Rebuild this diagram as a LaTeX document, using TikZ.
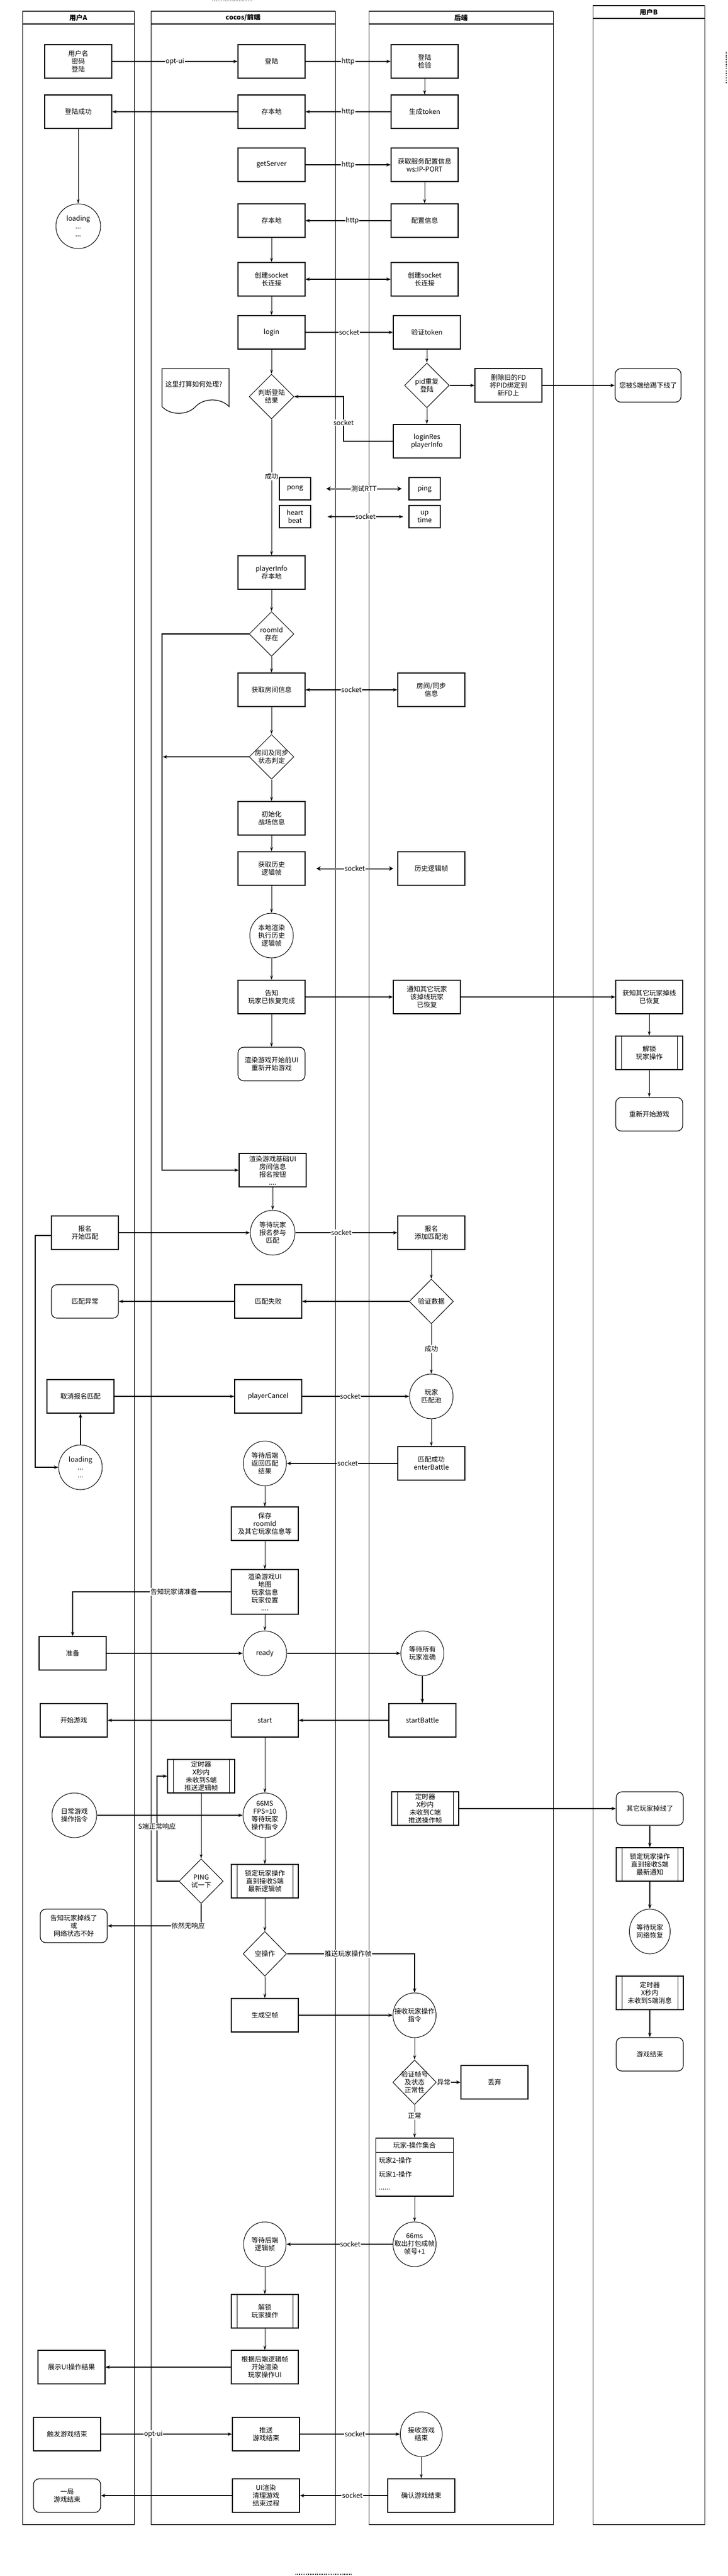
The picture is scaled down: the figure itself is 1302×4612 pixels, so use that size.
\documentclass[tikz,border=0pt]{standalone}
\usepackage{fontspec}
\setmainfont{Noto Sans CJK SC}
\usetikzlibrary{shapes.geometric,arrows.meta,calc}
\newcommand{\myfs}{\fontsize{12}{14}\selectfont}
\begin{document}
\begin{tikzpicture}[x=1pt,y=-1pt,
 nbase/.style={draw, line width=1.2pt, align=center, inner sep=1pt, font=\myfs},
 box/.style={nbase, rectangle, minimum width=120pt, minimum height=60pt},
 rbox/.style={box, rounded corners=10pt},
 proc/.style={box, path picture={\draw[line width=0.8pt] ([xshift=10pt]path picture bounding box.north west) -- ([xshift=10pt]path picture bounding box.south west) ([xshift=-10pt]path picture bounding box.north east) -- ([xshift=-10pt]path picture bounding box.south east);}},
 sbox/.style={nbase, rectangle, minimum width=56pt, minimum height=40pt},
 ell/.style={draw, line width=1pt, ellipse, minimum width=78pt, minimum height=80pt, inner sep=0pt},
 dia/.style={draw, line width=1pt, diamond, minimum width=80pt, minimum height=80pt, inner sep=0pt},
 ltxt/.style={align=center, font=\myfs, inner sep=0pt},
 lbl/.style={fill=white, inner sep=1pt, font=\myfs},
 thk/.style={line width=1.5pt, -{Stealth[length=8pt,width=6pt]}},
 thn/.style={line width=0.8pt, -{Stealth[length=8pt,width=5pt]}},
 dbl/.style={line width=1.5pt, {Stealth[length=8pt,width=6pt]}-{Stealth[length=8pt,width=6pt]}},
 gdbl/.style={line width=3pt, draw=gray, {Stealth[length=8pt,width=8pt,black]}-{Stealth[length=8pt,width=8pt,black]}},
 lane/.style={line width=0.8pt},
 laneh/.style={line width=1.4pt},
 hdr/.style={font=\myfs\bfseries}
]
\useasboundingbox (0,0) rectangle (1302,4612);
\fill[white] (0,0) rectangle (1302,4612);

% ---------- lanes ----------
\draw[lane] (40,20) rectangle (240,4520);
\draw[laneh] (40,20) -- (240,20) (40,43) -- (240,43) (40,4520) -- (240,4520);
\draw[lane] (270,20) rectangle (600,4520);
\draw[laneh] (270,20) -- (600,20) (270,43) -- (600,43) (270,4520) -- (600,4520);
\draw[lane] (660,20) rectangle (990,4520);
\draw[laneh] (660,20) -- (990,20) (660,43) -- (990,43) (660,4520) -- (990,4520);
\draw[lane] (1061,10) rectangle (1261,4520);
\draw[laneh] (1061,10) -- (1261,10) (1061,33) -- (1261,33) (1061,4520) -- (1261,4520);
\node[hdr] (hA) at (140,31.5) {用户A};
\node[hdr] (hC) at (435,31.5) {cocos/前端};
\node[hdr] (hS) at (825,31.5) {后端};
\node[hdr] (hB) at (1161,21.5) {用户B};

% small dotted marks
\draw[dotted, line width=1.2pt] (380,1.5) -- (451,1.5);
\draw[dotted, line width=1.2pt] (529,4609) -- (631,4609);
\draw[dotted, line width=1.2pt] (1300,93) -- (1300,150);

% ---------- user A ----------
\node[box] (a1) at (140,110) {用户名\\密码\\登陆};
\node[box] (a2) at (140,200) {登陆成功};
\node[ell, minimum width=80pt, label={[ltxt]center:{loading\\...\\...}}] (a3) at (140,405) {};
\node[box] (a4) at (152,2207) {报名\\开始匹配};
\node[rbox] (a5) at (152,2330) {匹配异常};
\node[box] (a6) at (144,2500) {取消报名匹配};
\node[ell, label={[ltxt]center:{loading\\...\\...}}] (a7) at (144,2627) {};
\node[box] (a8) at (130,2960) {准备};
\node[box] (a9) at (132,3080) {开始游戏};
\node[ell, minimum width=80pt, label={[ltxt]center:{日常游戏\\操作指令}}] (a10) at (133,3250) {};
\node[rbox] (a11) at (132,3448) {告知玩家掉线了\\或\\网络状态不好};
\node[box] (a12) at (128,4238) {展示UI操作结果};
\node[box] (a13) at (120,4358) {触发游戏结束};
\node[rbox] (a14) at (120,4468) {一局\\游戏结束};

% ---------- cocos ----------
\node[box] (c1) at (486,110) {登陆};
\node[box] (c2) at (486,200) {存本地};
\node[box] (c3) at (486,295) {getServer};
\node[box] (c4) at (486,395) {存本地};
\node[box] (c5) at (486,500) {创建socket\\长连接};
\node[box] (c6) at (486,595) {login};
\node[dia, label={[ltxt]center:{判断登陆\\结果}}] (c7) at (486,710) {};
\draw[line width=1.2pt] (290,728) -- (290,660) -- (410,660) -- (410,728)
  .. controls (395,712) and (365,712) .. (350,728)
  .. controls (335,744) and (305,744) .. (290,728);
\node[ltxt] (cnote) at (347,688) {这里打算如何处理?};
\node[sbox] (c8) at (528,875) {pong};
\node[sbox] (c9) at (528,925) {heart\\beat};
\node[box] (c10) at (486,1025) {playerInfo\\存本地};
\node[dia, label={[ltxt]center:{roomId\\存在}}] (c11) at (486,1135) {};
\node[box] (c12) at (486,1235) {获取房间信息};
\node[dia, label={[ltxt]center:{房间及同步\\状态判定}}] (c13) at (486,1355) {};
\node[box] (c14) at (486,1465) {初始化\\战场信息};
\node[box] (c15) at (486,1555) {获取历史\\逻辑帧};
\node[ell, label={[ltxt]center:{本地渲染\\执行历史\\逻辑帧}}] (c16) at (486,1675) {};
\node[box] (c17) at (486,1785) {告知\\玩家已恢复完成};
\node[rbox] (c18) at (486,1905) {渲染游戏开始前UI\\重新开始游戏};
\node[box] (c19) at (488,2095) {渲染游戏基础UI\\房间信息\\报名按钮\\....};
\node[ell, minimum width=80pt, label={[ltxt]center:{等待玩家\\报名参与\\匹配}}] (c20) at (488,2207) {};
\node[box] (c21) at (480,2330) {匹配失败};
\node[box] (c22) at (480,2500) {playerCancel};
\node[ell, minimum width=77pt, label={[ltxt]center:{等待后端\\返回匹配\\结果}}] (c23) at (474,2620) {};
\node[box] (c24) at (474,2728) {保存\\roomId\\及其它玩家信息等};
\node[box, minimum height=80pt] (c25) at (474,2850) {渲染游戏UI\\地图\\玩家信息\\玩家位置\\....};
\node[ell, label={[ltxt]center:{ready}}] (c26) at (474,2960) {};
\node[box] (c27) at (474,3080) {start};
\node[proc] (c28) at (360,3180) {定时器\\X秒内\\未收到S端\\推送逻辑帧};
\node[ell, label={[ltxt]center:{66MS\\FPS=10\\等待玩家\\操作指令}}] (c29) at (474,3250) {};
\node[dia, minimum width=79pt, label={[ltxt]center:{PING\\试一下}}] (c30) at (360,3368) {};
\node[proc] (c31) at (474,3368) {锁定玩家操作\\直到接收S端\\最新逻辑帧};
\node[dia, minimum width=78pt, label={[ltxt]center:{空操作}}] (c32) at (474,3498) {};
\node[box] (c33) at (474,3608) {生成空帧};
\node[ell, minimum width=76pt, label={[ltxt]center:{等待后端\\逻辑帧}}] (c34) at (474,4018) {};
\node[proc] (c35) at (474,4138) {解锁\\玩家操作};
\node[box] (c36) at (474,4238) {根据后端逻辑帧\\开始渲染\\玩家操作UI};
\node[box] (c37) at (476,4358) {推送\\游戏结束};
\node[box] (c38) at (476,4468) {UI渲染\\清理游戏\\结束过程};

% ---------- backend ----------
\node[box] (b1) at (760,110) {登陆\\检验};
\node[box] (b2) at (760,200) {生成token};
\node[box] (b3) at (760,295) {获取服务配置信息\\ws:IP-PORT};
\node[box] (b4) at (760,395) {配置信息};
\node[box] (b5) at (760,500) {创建socket\\长连接};
\node[box] (b6) at (764,595) {验证token};
\node[dia, label={[ltxt]center:{pid重复\\登陆}}] (b7) at (764,690) {};
\node[box] (b8) at (910,690) {删除旧的FD\\将PID绑定到\\新FD上};
\node[box] (b9) at (764,790) {loginRes\\playerInfo};
\node[sbox] (b10) at (760,875) {ping};
\node[sbox] (b11) at (760,925) {up\\time};
\node[box] (b12) at (772,1235) {房间/同步\\信息};
\node[box] (b13) at (772,1555) {历史逻辑帧};
\node[box] (b14) at (764,1785) {通知其它玩家\\该掉线玩家\\已恢复};
\node[box] (b15) at (772,2207) {报名\\添加匹配池};
\node[dia, minimum width=79pt, label={[ltxt]center:{验证数据}}] (b16) at (772,2330) {};
\node[ell, label={[ltxt]center:{玩家\\匹配池}}] (b17) at (772,2500) {};
\node[box] (b18) at (772,2620) {匹配成功\\enterBattle};
\node[ell, minimum width=77pt, label={[ltxt]center:{等待所有\\玩家准确}}] (b19) at (756,2960) {};
\node[box] (b20) at (756,3080) {startBattle};
\node[proc] (b21) at (761,3238) {定时器\\X秒内\\未收到C端\\推送操作帧};
\node[ell, minimum width=77pt, label={[ltxt]center:{接收玩家操作\\指令}}] (b22) at (742,3608) {};
\node[dia, minimum width=78pt, label={[ltxt]center:{验证帧号\\及状态\\正常性}}] (b23) at (742,3728) {};
\node[box] (b24) at (885,3728) {丢弃};
\node[draw, line width=1.2pt, minimum width=139pt, minimum height=104pt, inner sep=0pt] (b25) at (742,3880) {};
\draw[line width=1.2pt] ([yshift=-26pt]b25.north west) -- ([yshift=-26pt]b25.north east);
\node[ltxt] (b25h) at (742,3841) {玩家-操作集合};
\node[ltxt, anchor=west] (b25a) at (678,3868) {玩家2-操作};
\node[ltxt, anchor=west] (b25b) at (678,3893) {玩家1-操作};
\node[ltxt, anchor=west] (b25c) at (678,3920) {......};
\node[ell, minimum width=77pt, label={[ltxt]center:{66ms\\取出打包成帧\\帧号+1}}] (b26) at (742,4018) {};
\node[ell, minimum width=75pt, label={[ltxt]center:{接收游戏\\结束}}] (b27) at (754,4358) {};
\node[box] (b28) at (754,4468) {确认游戏结束};

% ---------- user B ----------
\node[rbox, minimum width=118pt] (u1) at (1160,690) {您被S端给踢下线了};
\node[box] (u2) at (1162,1785) {获知其它玩家掉线\\已恢复};
\node[proc] (u3) at (1162,1885) {解锁\\玩家操作};
\node[rbox] (u4) at (1162,1995) {重新开始游戏};
\node[rbox] (u5) at (1163,3238) {其它玩家掉线了};
\node[proc] (u6) at (1163,3338) {锁定玩家操作\\直到接收S端\\最新通知};
\node[ell, minimum width=73pt, label={[ltxt]center:{等待玩家\\网络恢复}}] (u7) at (1163,3458) {};
\node[proc] (u8) at (1163,3568) {定时器\\X秒内\\未收到S端消息};
\node[rbox] (u9) at (1163,3678) {游戏结束};

% ---------- free coordinates ----------
\coordinate (r1) at (584,875);
\coordinate (r2) at (719,875);
\coordinate (s1) at (586,925);
\coordinate (s2) at (722,925);
\coordinate (h1) at (566,1555);
\coordinate (h2) at (704,1555);
\coordinate (v1) at (291,1355);

% ---------- connectors ----------
\draw[thk] (a1) -- node[lbl]{opt-ui} (c1);
\draw[thk] (c1) -- node[lbl]{http} (b1);
\draw[thn] (b1) -- (b2);
\draw[thk] (b2) -- node[lbl]{http} (c2);
\draw[thk] (c2) -- (a2);
\draw[thn] (a2) -- (a3);
\draw[thk] (c3) -- node[lbl]{http} (b3);
\draw[thn] (b3) -- (b4);
\draw[thk] (b4) -- node[lbl,pos=0.45]{http} (c4);
\draw[thn] (c4) -- (c5);
\draw[dbl] (c5) -- (b5);
\draw[thn] (c5) -- (c6);
\draw[thk] (c6) -- node[lbl]{socket} (b6);
\draw[thn] (c6) -- (c7);
\draw[thn] (b6) -- (b7);
\draw[thk] (b7) -- (b8);
\draw[thk] (b8) -- (u1);
\draw[thn] (b7) -- (b9);
\draw[thk] (b9.west) -- (615,790) -- node[lbl,pos=0.42]{socket} (615,710) -- (c7.east);
\draw[thn] (c7) -- node[lbl,pos=0.42]{成功} (c10);
\draw[gdbl] (r1) -- node[lbl]{测试RTT} (r2);
\draw[dbl] (s1) -- node[lbl]{socket} (s2);
\draw[thn] (c10) -- (c11);
\draw[thn] (c11) -- (c12);
\draw[thk] (c11.west) -- (290,1135) -- (290,2095) -- (c19.west);
\draw[dbl] (c12) -- node[lbl]{socket} (b12);
\draw[thn] (c12) -- (c13);
\draw[thk] (c13.west) -- (v1);
\draw[thn] (c13) -- (c14);
\draw[thn] (c14) -- (c15);
\draw[gdbl] (h1) -- node[lbl]{socket} (h2);
\draw[thn] (c15) -- (c16);
\draw[thn] (c16) -- (c17);
\draw[thk] (c17) -- (b14);
\draw[thk] (b14) -- (u2);
\draw[thn] (c17) -- (c18);
\draw[thn] (u2) -- (u3);
\draw[thn] (u3) -- (u4);
\draw[thn] (c19) -- (c20);
\draw[thk] (a4) -- (c20);
\draw[thk] (c20) -- node[lbl,pos=0.45]{socket} (b15);
\draw[thn] (b15) -- (b16);
\draw[thk] (b16) -- (c21);
\draw[thk] (c21) -- (a5);
\draw[thn] (b16) -- node[lbl]{成功} (b17);
\draw[thk] ([yshift=-5pt]a4.west) -- (63,2212) -- (63,2627) -- (a7.west);
\draw[thk] (a7) -- (a6);
\draw[thk] (a6) -- (c22);
\draw[thk] (c22) -- node[lbl,pos=0.45]{socket} (b17);
\draw[thn] (b17) -- (b18);
\draw[thk] (b18) -- node[lbl,pos=0.45]{socket} (c23);
\draw[thn] (c23) -- (c24);
\draw[thn] (c24) -- (c25);
\draw[thk] (c25.west) -- node[lbl,pos=0.36]{告知玩家请准备} (130,2850) -- (a8.north);
\draw[thk] (a8) -- (c26);
\draw[thn] (c25) -- (c26);
\draw[thk] (c26) -- (b19);
\draw[thk] (b19) -- (b20);
\draw[thk] (b20) -- (c27);
\draw[thk] (c27) -- (a9);
\draw[thn] (c27) -- (c29);
\draw[thk] (a10) -- (c29);
\draw[thn] (c28) -- (c30);
\draw[thk] (c30.west) -- (281,3368) -- node[lbl,pos=0.52]{S端正常响应} (281,3180) -- (c28.west);
\draw[thk] (c30.south) -- (360,3448) -- node[lbl,pos=0.14]{依然无响应} (a11.east);
\draw[thn] (c29) -- (c31);
\draw[thn] (c31) -- (c32);
\draw[thk] (c32.east) -- node[lbl,pos=0.48]{推送玩家操作帧} (742,3498) -- (b22.north);
\draw[thn] (c32) -- (c33);
\draw[thk] (c33) -- (b22);
\draw[thk] (b21) -- (u5);
\draw[thk] (u5) -- (u6);
\draw[thk] (u6) -- (u7);
\draw[thk] (u8) -- (u9);
\draw[thn] (b22) -- (b23);
\draw[thk] (b23) -- node[lbl,pos=0.3]{异常} (b24);
\draw[thn] (b23) -- node[lbl,pos=0.33]{正常} (b25);
\draw[thn] (b25) -- (b26);
\draw[thk] (b26) -- node[lbl,pos=0.4]{socket} (c34);
\draw[thn] (c34) -- (c35);
\draw[thn] (c35) -- (c36);
\draw[thk] (c36) -- (a12);
\draw[thk] (a13) -- node[lbl,pos=0.4]{opt-ui} (c37);
\draw[thk] (c37) -- node[lbl,pos=0.55]{socket} (b27);
\draw[thn] (b27) -- (b28);
\draw[thk] (b28) -- node[lbl,pos=0.4]{socket} (c38);
\draw[thk] (c38) -- (a14);
\end{tikzpicture}
\end{document}
